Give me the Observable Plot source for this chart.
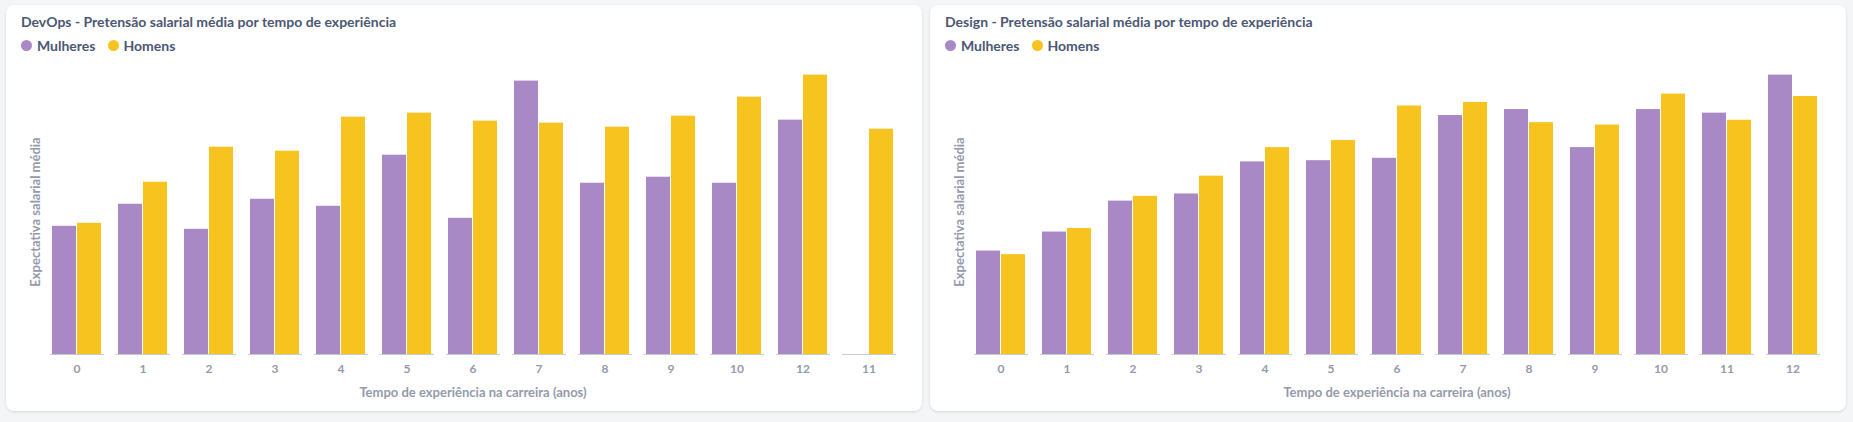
<!DOCTYPE html>
<html><head><meta charset="utf-8">
<script src="https://cdn.jsdelivr.net/npm/d3@7"></script>
<script src="https://cdn.jsdelivr.net/npm/@observablehq/plot@0.6"></script>
<style>
body{margin:0;background:#f4f5f7;font-family:Lato,sans-serif;}
#wrap{display:flex;gap:8px;padding:5px 6px;}
.card{background:#fff;border-radius:8px;box-shadow:0 1px 3px rgba(0,0,0,0.12);width:916px;height:406px;position:relative;}
.title{font-weight:bold;font-size:14px;color:#4c5773;position:absolute;left:15px;top:8px;}
.legend{position:absolute;left:15px;top:32px;font-size:14px;color:#4c5773;font-weight:bold;display:flex;gap:12px;}
.legend span{display:flex;align-items:center;gap:5px;}
.dot{width:11px;height:11px;border-radius:50%;display:inline-block;}
.plot{position:absolute;left:0;top:56px;}
</style></head><body>
<div id="wrap"></div>
<script>
const genders = ["Mulheres","Homens"];
const colors = ["#A989C5","#F7C41F"];
const devopsCats = ["0","1","2","3","4","5","6","7","8","9","10","12","11"];
const devopsMulheres = [384,450,375,465,444,597,408,819,513,531,513,702,null];
const devopsHomens = [393,516,621,609,711,723,699,693,681,714,771,837,675];
const designCats = ["0","1","2","3","4","5","6","7","8","9","10","11","12"];
const designMulheres = [87,103,129,135,162,163,165,201,206,174,206,203,235];
const designHomens = [84,106,133,150,174,180,209,212,195,193,219,197,217];

function card(title, cats, m, h){
  const data = [];
  cats.forEach((c,i)=>{
    if(m[i]!=null) data.push({cat:c,g:"Mulheres",v:m[i]});
    if(h[i]!=null) data.push({cat:c,g:"Homens",v:h[i]});
  });
  const maxV = d3.max([...m,...h]);
  const div = document.createElement("div"); div.className="card";
  div.innerHTML = `<div class="title">${title}</div><div class="legend">${genders.map((g,i)=>`<span><i class="dot" style="background:${colors[i]}"></i>${g}</span>`).join("")}</div>`;
  const p = Plot.plot({
    width:916, height:345,
    marginLeft:38, marginRight:22, marginTop:8, marginBottom:52,
    style:{fontFamily:"Lato, sans-serif", fontSize:"12px", color:"#949aab", fontWeight:"bold"},
    fx:{domain:cats, padding:0.2, label:"Tempo de experiência na carreira (anos)", labelAnchor:"center", labelOffset:42, tickSize:0, tickPadding:10},
    x:{domain:genders, axis:null, padding:0.04},
    y:{domain:[0,maxV*1.02], ticks:[], label:"Expectativa salarial média", labelAnchor:"center", labelArrow:"none", labelOffset:20, tickSize:0},
    color:{domain:genders, range:colors},
    marks:[
      Plot.barY(data,{fx:"cat", x:"g", y:"v", fill:"g"}),
      Plot.frame({anchor:"bottom", stroke:"#c6cad3", facetAnchor:null})
    ]
  });
  p.classList.add("plot");
  p.querySelectorAll("[aria-label='fx-axis label'] text, [aria-label='y-axis label'] text").forEach(t=>t.setAttribute("font-size","13px"));
  div.appendChild(p);
  document.getElementById("wrap").appendChild(div);
}
card("DevOps - Pretensão salarial média por tempo de experiência", devopsCats, devopsMulheres, devopsHomens);
card("Design - Pretensão salarial média por tempo de experiência", designCats, designMulheres, designHomens);
</script></body></html>
